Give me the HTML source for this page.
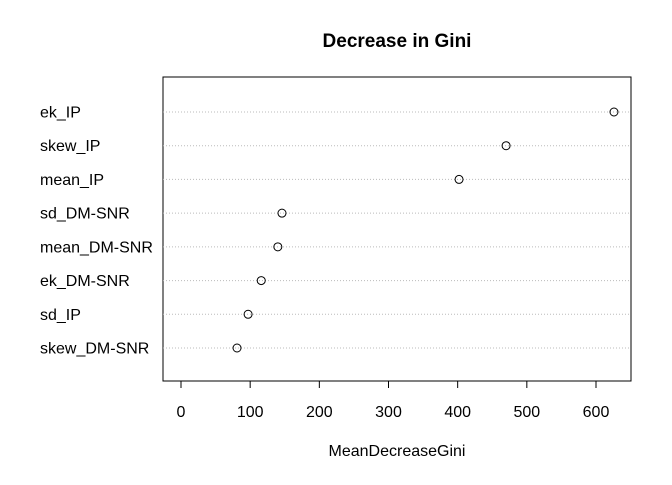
<!DOCTYPE html>
<html><head><meta charset="utf-8"><style>
html,body{margin:0;padding:0;background:#fff;}
svg text{font-family:"Liberation Sans",sans-serif;}
</style></head><body>
<svg id="chart" width="672" height="480" xmlns="http://www.w3.org/2000/svg">
<text x="397" y="47" text-anchor="middle" font-size="19" font-weight="bold">Decrease in Gini</text>
<rect x="163" y="77" width="468" height="304" fill="none" stroke="#000" stroke-width="1"/>
<text x="397" y="456" text-anchor="middle" font-size="16">MeanDecreaseGini</text>
<g id="rows"></g><g id="axis"></g>
</svg>
<script>
const categories=["ek_IP","skew_IP","mean_IP","sd_DM-SNR","mean_DM-SNR","ek_DM-SNR","sd_IP","skew_DM-SNR"];
const values=[626,470,402,146,140,116,97,81];
const ticks=[0,100,200,300,400,500,600];
const NS="http://www.w3.org/2000/svg";
const xs=v=>181+v*(596-181)/600;
const ys=i=>112+i*(348-112)/7;
const rows=document.getElementById('rows'),axis=document.getElementById('axis');
function mk(tag,attrs,parent){const e=document.createElementNS(NS,tag);for(const k in attrs)e.setAttribute(k,attrs[k]);parent.appendChild(e);return e;}
categories.forEach((c,i)=>{
 const y=ys(i);
 const l=mk('line',{x1:163,x2:631,y1:y,y2:y,stroke:'#bbb','stroke-dasharray':'1,2'},rows);
 
 
 const t=mk('text',{x:40,y:y+5.5,'font-size':16},rows);t.textContent=c;
 
 
 const p=mk('circle',{cx:xs(values[i]),cy:y,r:4,fill:'none',stroke:'#000','stroke-width':1},rows);
 
 
});
const al=mk('line',{x1:xs(0),x2:xs(600),y1:381,y2:381,stroke:'#000'},axis);


ticks.forEach(v=>{
 const tk=mk('line',{x1:xs(v),x2:xs(v),y1:381,y2:388,stroke:'#000'},axis);
 
 
 const t=mk('text',{x:xs(v),y:417,'font-size':16,'text-anchor':'middle'},axis);t.textContent=v;
 
 
});
</script>
</body></html>
